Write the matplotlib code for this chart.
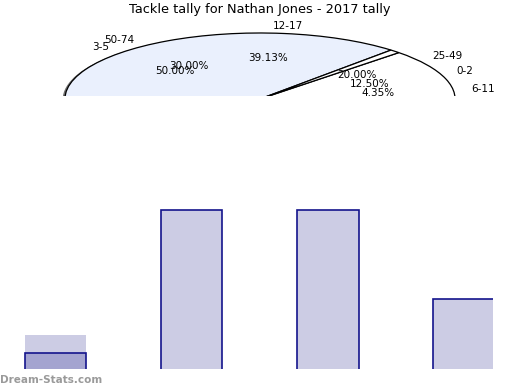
import matplotlib
matplotlib.use("Agg")
import matplotlib.pyplot as plt

# Pie data (as far as it is visible in the clipped top panel)
pie_slices = [39.13, 59.99, 0.88]
pie_colors = ["#eaf0fd", "white", "white"]
pie_labels = ["12-17", "50-74", "3-5", "25-49", "0-2", "6-11"]
pie_pcts = ["39.13%", "30.00%", "50.00%", "20.00%", "12.50%", "4.35%"]

# Bar data
bar_cats = ["0-2", "3-5", "6-11", "12-17"]
bar_light = [4, 18, 18, 8]
bar_outline = [2, 18, 18, 8]

W, H = 520, 390
fig = plt.figure(figsize=(5.2, 3.9), dpi=100)


def px_axes(left, top, right, bottom):
    return fig.add_axes([left / W, 1 - bottom / H, (right - left) / W, (bottom - top) / H])


# Title
fig.text(260 / W, 1 - 10 / H, "Tackle tally for Nathan Jones - 2017 tally",
         ha="center", va="center", fontsize=9.3)

# Pie, squashed into an ellipse and clipped just below its centre
ax_pie = px_axes(63, 32, 457, 96)
shadow, _ = ax_pie.pie([1], colors=["#707070"], radius=1.0, center=(-0.012, -0.01),
                       wedgeprops=dict(linewidth=0))
wedges, _ = ax_pie.pie(pie_slices, colors=pie_colors, startangle=47.8, counterclock=True,
                       wedgeprops=dict(edgecolor="black", linewidth=0.9))
for w in shadow + wedges:
    w.set_clip_on(True)
    w.set_clip_path(ax_pie.patch)
ax_pie.set_aspect("auto")
ax_pie.set_xlim(-1.01, 1.01)
ax_pie.set_ylim(0.045, 1.015)
ax_pie.axis("off")

label_pos = [(288, 26), (119, 40), (101, 47), (447, 56), (465, 71), (483, 89)]
pct_pos = [(268, 58), (189, 66), (175, 71), (357, 75), (370, 84), (378, 93)]
for txt, (x, y) in zip(pie_labels, label_pos):
    fig.text(x / W, 1 - y / H, txt, ha="center", va="center", fontsize=7.5)
for txt, (x, y) in zip(pie_pcts, pct_pos):
    fig.text(x / W, 1 - y / H, txt, ha="center", va="center", fontsize=7.5)

# Bars
ax_bar = px_axes(0, 190, 493, 369)
x = range(len(bar_cats))
ax_bar.bar(x, bar_light, width=0.45, color="#ccccE4", linewidth=0)
ax_bar.bar(x, bar_outline, width=0.45, facecolor=["#a4a4d0", "none", "none", "none"],
           edgecolor="#14148c", linewidth=1.2)
ax_bar.set_xlim(-0.406, 3.212)
ax_bar.set_ylim(0.15, 20.3)
ax_bar.axis("off")

# Watermark
fig.text(0, 1 - 380 / H, "Dream-Stats.com", ha="left", va="center",
         fontsize=7.5, fontweight="bold", color="#9a9a9a")

fig.savefig("out.png", dpi=100)
